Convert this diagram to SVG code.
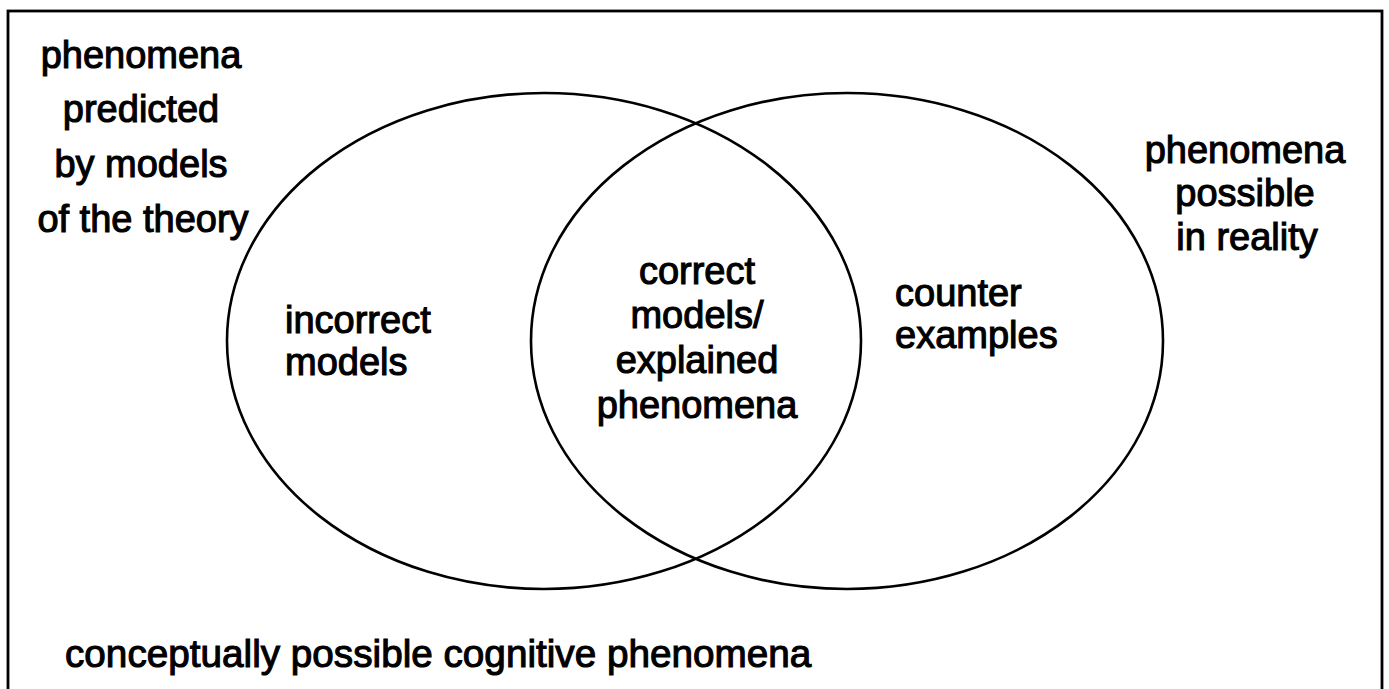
<svg xmlns="http://www.w3.org/2000/svg" width="1389" height="689" viewBox="0 0 1389 689">
  <style>
    .lbl { font-family: "Liberation Sans", Arial, sans-serif; font-size: 38px; fill: #000; stroke: #000; stroke-width: 1.1px; }
    .mid { text-anchor: middle; }
    .set { fill: none; stroke: #000; stroke-width: 2.6; }
  </style>
  <rect width="1389" height="689" fill="#fff"/>
  <g id="universe">
    <rect x="8" y="11" width="1374" height="720" fill="none" stroke="#000" stroke-width="2.8"/>
    <text class="lbl" x="65" y="667" style="font-size:38.7px">conceptually possible cognitive phenomena</text>
  </g>
  <g id="theory">
    <ellipse class="set" cx="544" cy="341" rx="317" ry="248"/>
    <text class="lbl mid" x="141" y="68">phenomena</text>
    <text class="lbl mid" x="141" y="122">predicted</text>
    <text class="lbl mid" x="141" y="177">by models</text>
    <text class="lbl mid" x="143" y="232">of the theory</text>
  </g>
  <g id="reality">
    <ellipse class="set" cx="847" cy="341" rx="316" ry="248"/>
    <text class="lbl mid" x="1245" y="163">phenomena</text>
    <text class="lbl mid" x="1245" y="206">possible</text>
    <text class="lbl mid" x="1247" y="250">in reality</text>
  </g>
  <g id="incorrect">
    <text class="lbl" x="285" y="333">incorrect</text>
    <text class="lbl" x="285" y="375">models</text>
  </g>
  <g id="correct">
    <text class="lbl mid" x="697" y="284">correct</text>
    <text class="lbl mid" x="697" y="328">models/</text>
    <text class="lbl mid" x="697" y="373">explained</text>
    <text class="lbl mid" x="697" y="418">phenomena</text>
  </g>
  <g id="counter">
    <text class="lbl" x="895" y="306">counter</text>
    <text class="lbl" x="895" y="348">examples</text>
  </g>
  <g id="connectors"></g>
</svg>
